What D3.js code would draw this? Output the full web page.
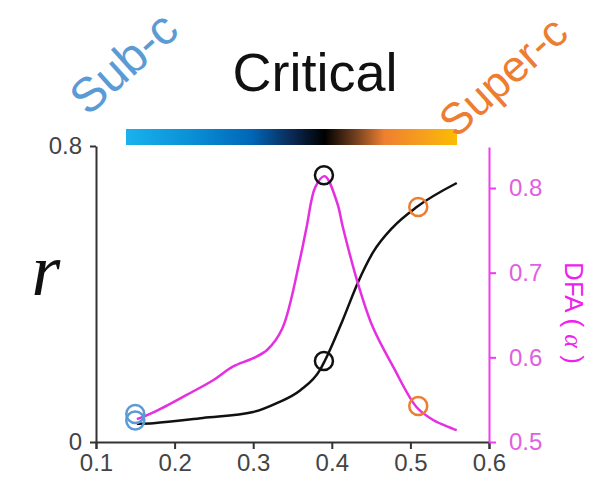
<!DOCTYPE html>
<html>
<head>
<meta charset="utf-8">
<script src="https://cdn.jsdelivr.net/npm/d3@7"></script>
<style>
  body { margin: 0; background: #fff; }
  svg { display: block; font-family: "Liberation Sans", Arial, sans-serif; }
</style>
</head>
<body>
<div id="chart"></div>
<script>
// data
var rX = [0.152, 0.173, 0.236, 0.300, 0.330, 0.360, 0.385, 0.391, 0.414, 0.433, 0.452, 0.478, 0.508, 0.559];
var rY = [0.049, 0.051, 0.065, 0.081, 0.105, 0.140, 0.195, 0.219, 0.330, 0.430, 0.511, 0.581, 0.635, 0.700];

var dfaX = [0.152, 0.173, 0.216, 0.249, 0.274, 0.300, 0.318, 0.337, 0.360, 0.368, 0.379, 0.391, 0.407, 0.414, 0.433, 0.452, 0.478, 0.508, 0.529, 0.559];
var dfaY = [0.527, 0.535, 0.556, 0.573, 0.589, 0.599, 0.609, 0.634, 0.718, 0.754, 0.801, 0.814, 0.782, 0.754, 0.688, 0.636, 0.589, 0.541, 0.526, 0.514];

var phases = ["Sub-c", "Critical", "Super-c"];
var markX = [0.15, 0.39, 0.51];
var markR = [0.058, 0.219, 0.635];
var markDfa = [0.533, 0.815, 0.5425];

var xTicks = [0.1, 0.2, 0.3, 0.4, 0.5, 0.6];
var rTicks = [0, 0.8];
var dfaTicks = [0.5, 0.6, 0.7, 0.8];

var W = 601, H = 485;
var magenta = "#e52fe0";
var phaseColor = ["#5b9bd5", "#111", "#ed7d31"];

var svg = d3.select("#chart").append("svg")
  .attr("width", W)
  .attr("height", H);

var x = d3.scaleLinear().domain([0.1, 0.6]).range([96, 489]);
var yR = d3.scaleLinear().domain([0, 0.8]).range([442, 146]);
var yD = d3.scaleLinear().domain([0.5, 0.8]).range([442, 188]);

// colour bar
var grad = svg.append("defs").append("linearGradient")
  .attr("id", "bar").attr("x1", "0%").attr("x2", "100%");
[["0", "#19b2ee"], ["0.2", "#0a8fd6"], ["0.38", "#0066b8"], ["0.5", "#0a2a55"], ["0.6", "#000"],
 ["0.7", "#7a4320"], ["0.78", "#ef7f30"], ["0.9", "#f6a01c"], ["1", "#fbbd00"]].forEach(function(s) {
  grad.append("stop").attr("offset", s[0]).attr("stop-color", s[1]);
});
svg.append("rect")
  .attr("x", 126).attr("y", 129)
  .attr("width", 331).attr("height", 16)
  .attr("fill", "url(#bar)");

// phase labels
svg.append("text")
  .attr("x", 315).attr("y", 91)
  .attr("text-anchor", "middle")
  .attr("font-size", 54)
  .attr("fill", "#111")
  .text(phases[1]);

svg.append("text")
  .attr("transform", "translate(88,117) rotate(-42)")
  .attr("font-size", 48)
  .attr("fill", phaseColor[0])
  .text(phases[0]);

svg.append("text")
  .attr("transform", "translate(456,139) rotate(-42)")
  .attr("font-size", 44)
  .attr("fill", phaseColor[2])
  .text(phases[2]);

// axes
var xAxis = svg.append("g")
  .attr("transform", "translate(0,442)")
  .call(d3.axisBottom(x).tickValues(xTicks).tickSize(7).tickPadding(5).tickFormat(d3.format(".1f")));
xAxis.select(".domain").attr("stroke", "#333").attr("stroke-width", 2);
xAxis.selectAll(".tick line").attr("stroke", "#333").attr("stroke-width", 2);
xAxis.selectAll("text").attr("font-size", 24).attr("fill", "#444")
  .attr("font-family", "Liberation Sans, Arial, sans-serif");

var yAxisL = svg.append("g")
  .attr("transform", "translate(96,0)")
  .call(d3.axisLeft(yR).tickValues(rTicks).tickSize(6).tickSizeOuter(0).tickPadding(8)
    .tickFormat(function(d) { return d === 0 ? "0" : d3.format(".1f")(d); }));
yAxisL.select(".domain").attr("stroke", "#333").attr("stroke-width", 2);
yAxisL.selectAll(".tick line").attr("stroke", "#333").attr("stroke-width", 2);
yAxisL.selectAll("text").attr("font-size", 24).attr("fill", "#444")
  .attr("font-family", "Liberation Sans, Arial, sans-serif");

var yD2 = yD.copy().domain([0.5, 0.5 + (442 - 147) / (442 - 188) * 0.3]).range([442, 147]);
var yAxisR = svg.append("g")
  .attr("transform", "translate(489,0)")
  .call(d3.axisRight(yD2).tickValues(dfaTicks).tickSize(7).tickSizeOuter(0).tickPadding(13).tickFormat(d3.format(".1f")));
yAxisR.select(".domain").attr("stroke", "#f03cf0").attr("stroke-width", 2);
yAxisR.selectAll(".tick line").attr("stroke", "#f03cf0").attr("stroke-width", 2);
yAxisR.selectAll("text").attr("font-size", 24).attr("fill", "#e060e0")
  .attr("font-family", "Liberation Sans, Arial, sans-serif");

// axis titles
svg.append("text")
  .attr("x", 46).attr("y", 295)
  .attr("text-anchor", "middle")
  .attr("font-family", "Liberation Serif, Times New Roman, serif")
  .attr("font-style", "italic")
  .attr("font-size", 74)
  .attr("fill", "#111")
  .text("r");

var dfaTitle = svg.append("text")
  .attr("transform", "translate(565,313) rotate(90)")
  .attr("text-anchor", "middle")
  .attr("font-size", 26)
  .attr("fill", "#f020f0");
dfaTitle.append("tspan").text("DFA ( ");
dfaTitle.append("tspan").attr("font-style", "italic").attr("font-family", "Liberation Serif, serif").text("\u03b1");
dfaTitle.append("tspan").text(" )");

// curves
var rLine = d3.line().x(function(d, i) { return x(rX[i]); }).y(function(d) { return yR(d); }).curve(d3.curveMonotoneX);
var dLine = d3.line().x(function(d, i) { return x(dfaX[i]); }).y(function(d) { return yD(d); }).curve(d3.curveCatmullRom.alpha(0.5));

svg.append("path").datum(rY)
  .attr("d", rLine)
  .attr("fill", "none").attr("stroke", "#111").attr("stroke-width", 2.5);

svg.append("path").datum(dfaY)
  .attr("d", dLine)
  .attr("fill", "none").attr("stroke", magenta).attr("stroke-width", 2.5);

// phase markers
svg.selectAll("circle.r").data(markR).enter().append("circle")
  .attr("class", "r")
  .attr("cx", function(d, i) { return x(markX[i]); })
  .attr("cy", function(d) { return yR(d); })
  .attr("r", 9)
  .attr("fill", "none")
  .attr("stroke", function(d, i) { return phaseColor[i]; })
  .attr("stroke-width", 2.5);

svg.selectAll("circle.d").data(markDfa).enter().append("circle")
  .attr("class", "d")
  .attr("cx", function(d, i) { return x(markX[i]); })
  .attr("cy", function(d) { return yD(d); })
  .attr("r", 9)
  .attr("fill", "none")
  .attr("stroke", function(d, i) { return phaseColor[i]; })
  .attr("stroke-width", 2.5);
</script>
</body>
</html>
